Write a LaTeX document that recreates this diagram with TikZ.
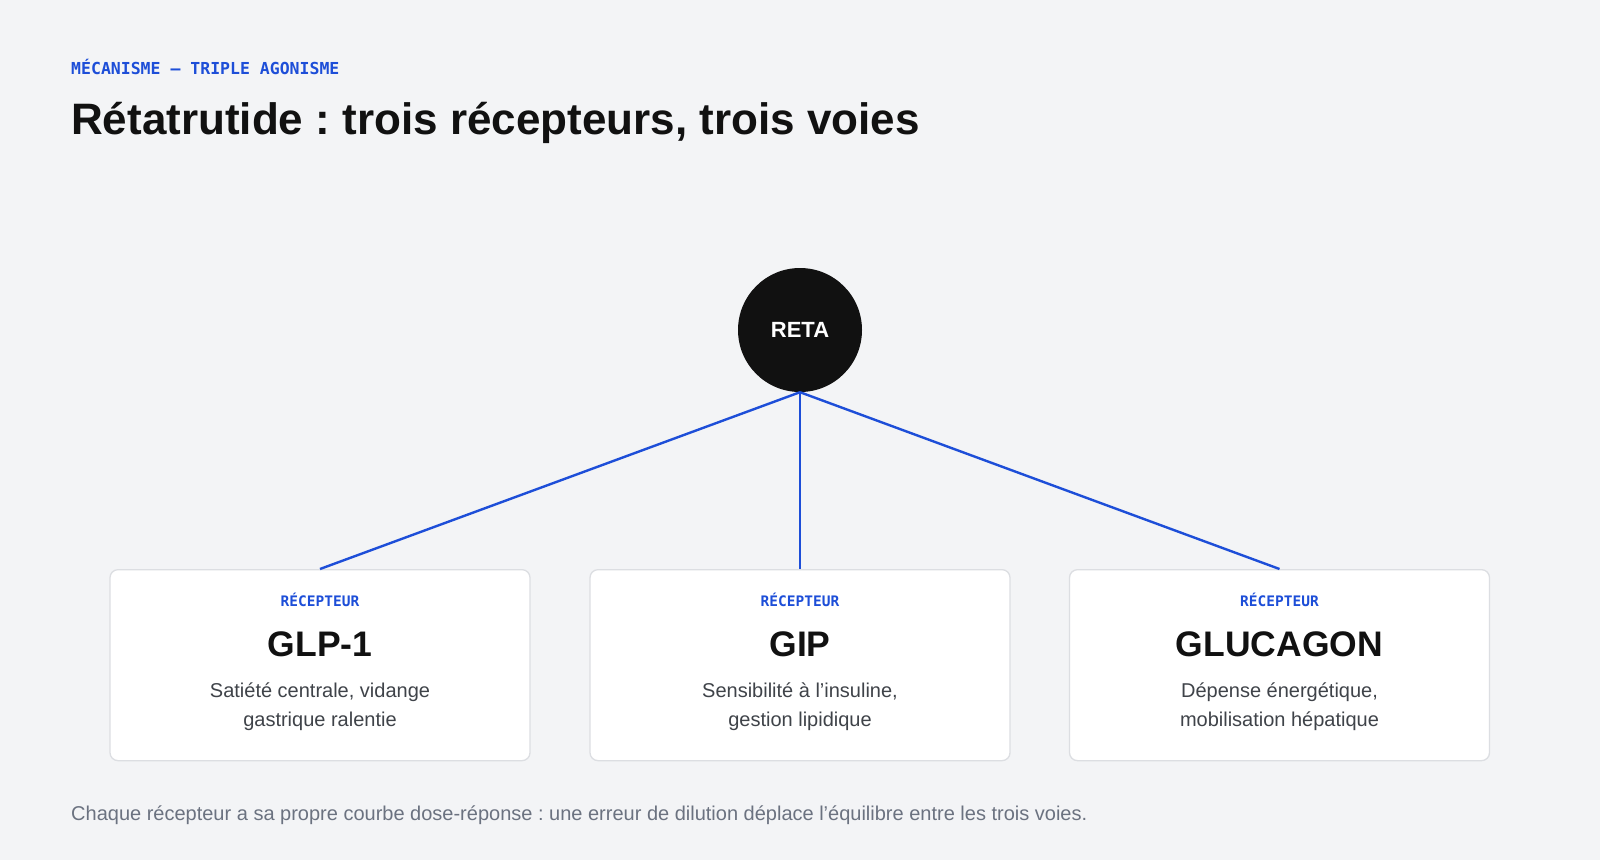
\documentclass[tikz,border=0pt]{standalone}
\usepackage{fontspec}
\setmainfont{Liberation Sans}
\newfontfamily\monobold{DejaVu Sans Mono}[BoldFont={DejaVu Sans Mono Bold}]
\definecolor{bg}{HTML}{F3F4F6}
\definecolor{accent}{HTML}{1D4ED8}
\definecolor{ink}{HTML}{111111}
\definecolor{bordergray}{HTML}{DCDEE2}
\definecolor{desc}{HTML}{3F4349}
\definecolor{foot}{HTML}{6B7280}
\frenchspacing
\begin{document}
\begin{tikzpicture}[x=1pt,y=-1pt,
  card/.style={draw=bordergray, line width=1.3pt, fill=white, rounded corners=8pt},
  kicker/.style={font=\monobold\bfseries\fontsize{14.5}{16}\selectfont, text=accent, anchor=base},
  rname/.style={font=\bfseries\fontsize{35.5}{40}\selectfont, text=ink, anchor=base},
  rdesc/.style={font=\fontsize{20}{28.5}\selectfont, text=desc, align=center, anchor=north},
  link/.style={draw=accent, line width=2.4pt}]
\fill[bg] (0,0) rectangle (1600,860);
\useasboundingbox (0,0) rectangle (1600,860);
\node[anchor=base west, inner sep=0, font=\monobold\bfseries\fontsize{16.5}{18}\selectfont, text=accent] (lab) at (71,74.5) {MÉCANISME — TRIPLE AGONISME};
\node[anchor=base west, inner sep=0, font=\bfseries\fontsize{44}{48}\selectfont, text=ink] (title) at (71,134) {Rétatrutide : trois récepteurs, trois voies};
% boxes
\node[card, minimum width=420pt, minimum height=191pt, anchor=north] (b1) at (320,569) {};
\node[card, minimum width=420pt, minimum height=191pt, anchor=north] (b2) at (800,569) {};
\node[card, minimum width=420pt, minimum height=191pt, anchor=north] (b3) at (1279.5,569) {};
% circle
\node[circle, fill=ink, minimum size=124pt, inner sep=0, text=white, font=\bfseries\fontsize{22}{24}\selectfont] (reta) at (800,330) {RETA};
\draw[link] (reta.south) -- (b1.north);
\draw[link] (reta.south) -- (b2.north);
\draw[link] (reta.south) -- (b3.north);
% texts
\node[kicker, inner sep=0] (k1) at (320,606) {RÉCEPTEUR};
\node[kicker, inner sep=0] (k2) at (800,606) {RÉCEPTEUR};
\node[kicker, inner sep=0] (k3) at (1279.5,606) {RÉCEPTEUR};
\node[rname, inner sep=0] (n1) at (320,656) {GLP-1};
\node[rname, inner sep=0] (n2) at (800,656) {GIP};
\node[rname, inner sep=0] (n3) at (1279.5,656) {GLUCAGON};
\node[rdesc, inner sep=0] (d1) at (320,683) {Satiété centrale, vidange\\gastrique ralentie};
\node[rdesc, inner sep=0] (d2) at (800,683) {Sensibilité à l’insuline,\\gestion lipidique};
\node[rdesc, inner sep=0] (d3) at (1279.5,683) {Dépense énergétique,\\mobilisation hépatique};
\node[anchor=base west, inner sep=0, font=\fontsize{20}{22}\selectfont, text=foot] (foot) at (71,820) {Chaque récepteur a sa propre courbe dose-réponse : une erreur de dilution déplace l’équilibre entre les trois voies.};
\end{tikzpicture}
\end{document}
